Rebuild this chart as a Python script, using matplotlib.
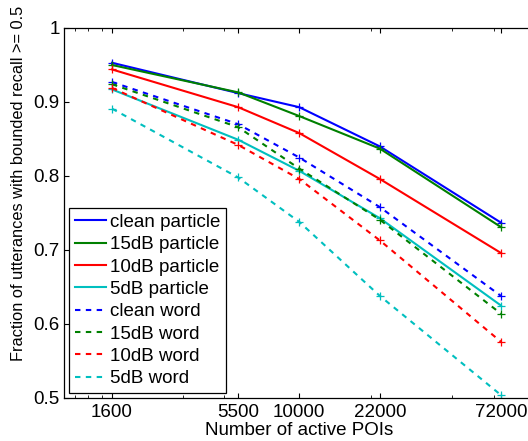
import matplotlib
matplotlib.use("Agg")
import matplotlib.pyplot as plt
from matplotlib.ticker import FixedLocator, NullFormatter

plt.rcParams['font.family'] = ['Liberation Sans', 'DejaVu Sans']

pois = [1600, 5500, 10000, 22000, 72000]
xtick_labels = ["1600", "5500", "10000", "22000", "72000"]
minor_xticks = [1117, 1270, 1449, 3220, 4800, 20100, 44500, 67000]
yticks = [0.5, 0.6, 0.7, 0.8, 0.9, 1.0]
ytick_labels = ["0.5", "0.6", "0.7", "0.8", "0.9", "1"]

clean_particle = [0.953, 0.912, 0.893, 0.840, 0.737]
db15_particle = [0.950, 0.913, 0.881, 0.837, 0.731]
db10_particle = [0.944, 0.893, 0.858, 0.796, 0.696]
db5_particle = [0.917, 0.849, 0.807, 0.743, 0.625]
clean_word = [0.927, 0.870, 0.825, 0.758, 0.638]
db15_word = [0.924, 0.866, 0.810, 0.741, 0.614]
db10_word = [0.919, 0.842, 0.796, 0.713, 0.576]
db5_word = [0.891, 0.798, 0.738, 0.638, 0.504]

series = [
    ("clean particle", clean_particle, (0, 0, 1), '-'),
    ("15dB particle", db15_particle, (0, 0.5, 0), '-'),
    ("10dB particle", db10_particle, (1, 0, 0), '-'),
    ("5dB particle", db5_particle, (0, 0.75, 0.75), '-'),
    ("clean word", clean_word, (0, 0, 1), '--'),
    ("15dB word", db15_word, (0, 0.5, 0), '--'),
    ("10dB word", db10_word, (1, 0, 0), '--'),
    ("5dB word", db5_word, (0, 0.75, 0.75), '--'),
]

fig = plt.figure(figsize=(5.28, 4.41), dpi=100)
ax = fig.add_axes([64/528, 43/441, 470.5/528, 370/441])

for label, vals, color, ls in series:
    if ls == '--':
        ax.plot(pois, vals, color=color, lw=1.5, linestyle=(0, (2.6, 2.6)), label=label)
    else:
        ax.plot(pois, vals, color=color, lw=1.5, linestyle='-', label=label)
    ax.plot(pois, vals, color=color, lw=0, marker='+', markersize=6, markeredgewidth=0.9)

ax.set_xscale('log')
ax.set_xlim(1000, 100000)
ax.set_ylim(0.5, 1.0)
ax.xaxis.set_major_locator(FixedLocator(pois))
ax.set_xticklabels(xtick_labels)
ax.xaxis.set_minor_locator(FixedLocator(minor_xticks))
ax.xaxis.set_minor_formatter(NullFormatter())
ax.set_yticks(yticks)
ax.set_yticklabels(ytick_labels)
ax.yaxis.set_minor_locator(FixedLocator([]))

ax.tick_params(axis='both', which='major', direction='in', length=3.5, width=0.8,
               top=True, right=True, labelsize=13.5)
ax.tick_params(axis='x', which='major', pad=4)
ax.tick_params(axis='y', which='major', pad=3)
ax.tick_params(axis='x', which='minor', direction='in', length=2, width=0.6, top=True)
for s in ax.spines.values():
    s.set_linewidth(0.9)

ax.set_xlabel("Number of active POIs", fontsize=13.5)
ax.xaxis.set_label_coords(0.5, -0.064)
ax.xaxis.label.set_va('top')

fig.text(19/528, 1 - 183/441, "Fraction of utterances with bounded recall >= 0.5",
         rotation=90, ha='center', va='center', fontsize=11.8)

leg = ax.legend(loc='lower left', bbox_to_anchor=(0.0106, 0.0135), borderaxespad=0,
                fontsize=13.5, labelspacing=0.28, handlelength=1.7, handletextpad=0.2,
                borderpad=0.3, fancybox=False, framealpha=1, edgecolor='black')
leg.get_frame().set_linewidth(0.9)

fig.savefig("out.png", dpi=100)
